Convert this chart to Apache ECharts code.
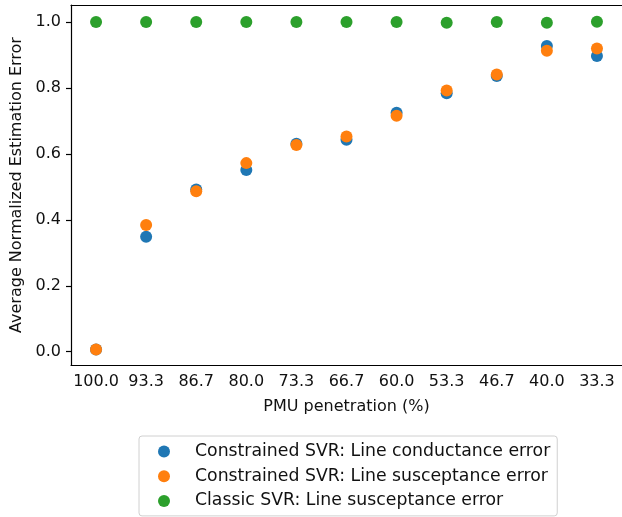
<!DOCTYPE html>
<html>
<head>
<meta charset="utf-8">
<script src="https://cdn.jsdelivr.net/npm/echarts@6/dist/echarts.min.js"></script>
<style>
html,body{margin:0;padding:0;background:#fff;}
#chart{width:622px;height:517px;}
</style>
</head>
<body>
<div id="chart"></div>
<script>
const categories = ["100.0","93.3","86.7","80.0","73.3","66.7","60.0","53.3","46.7","40.0","33.3"];
const conductanceErr = [0.007,0.349,0.492,0.551,0.631,0.643,0.725,0.784,0.836,0.927,0.897];
const susceptanceErr = [0.007,0.384,0.487,0.572,0.627,0.653,0.716,0.792,0.841,0.913,0.920];
const classicErr = [1.0,1.0,1.0,1.0,1.0,1.0,1.0,0.998,1.0,0.998,1.001];
const yTicks = [0.0,0.2,0.4,0.6,0.8,1.0];
const seriesNames = ["Constrained SVR: Line conductance error","Constrained SVR: Line susceptance error","Classic SVR: Line susceptance error"];
const colors = ["#1f77b4","#ff7f0e","#2ca02c"];

const font = "DejaVu Sans";
const chart = echarts.init(document.getElementById('chart'), null, {renderer:'canvas'});
const mk = (name, data, color) => ({
  name, type:'scatter', data, symbol:'circle', symbolSize:12,
  itemStyle:{color, opacity:1}, clip:false, emphasis:{disabled:true}
});
chart.setOption({
  animation:false,
  backgroundColor:'#fff',
  textStyle:{fontFamily:font},
  grid:{left:71, right:-5, top:5, bottom:152, containLabel:false},
  xAxis:[{
    type:'category', data:categories, boundaryGap:true, position:'bottom',
    axisLine:{onZero:false, lineStyle:{color:'#000', width:1.2}},
    axisTick:{alignWithLabel:true, length:5, lineStyle:{color:'#000', width:1.2}},
    axisLabel:{color:'#111', fontSize:16, fontFamily:font, margin:9, interval:0},
    splitLine:{show:false},
    name:'PMU penetration (%)', nameLocation:'middle', nameGap:34,
    nameTextStyle:{color:'#111', fontSize:16, fontFamily:font}
  },{
    type:'category', data:categories, position:'top', boundaryGap:true,
    axisLine:{onZero:false, lineStyle:{color:'#000', width:1.2}},
    axisTick:{show:false}, axisLabel:{show:false}, splitLine:{show:false}
  }],
  yAxis:{
    type:'value', min:-0.0403, max:1.0516,
    axisLine:{show:true, onZero:false, lineStyle:{color:'#000', width:1.2}},
    axisTick:{show:true, length:5, customValues:yTicks, lineStyle:{color:'#000', width:1.2}},
    axisLabel:{color:'#111', fontSize:16, fontFamily:font, margin:10, customValues:yTicks,
      formatter:v=>v.toFixed(1)},
    splitLine:{show:false},
    name:'Average Normalized Estimation Error', nameLocation:'middle', nameGap:41,
    nameTextStyle:{color:'#111', fontSize:16, fontFamily:font}
  },
  legend:{
    orient:'vertical', left:139, top:436,
    data:seriesNames,
    icon:'circle', itemWidth:48, itemHeight:12, itemGap:4.7,
    padding:[5.5,7,5,19],
    borderColor:'#d0d0d0', borderWidth:1, borderRadius:3,
    backgroundColor:'#fff',
    textStyle:{color:'#111', fontSize:17.3, fontFamily:font, lineHeight:20, padding:[0,0,0,2]}
  },
  series:[
    mk(seriesNames[0], conductanceErr, colors[0]),
    mk(seriesNames[1], susceptanceErr, colors[1]),
    mk(seriesNames[2], classicErr, colors[2])
  ]
});
</script>
</body>
</html>
